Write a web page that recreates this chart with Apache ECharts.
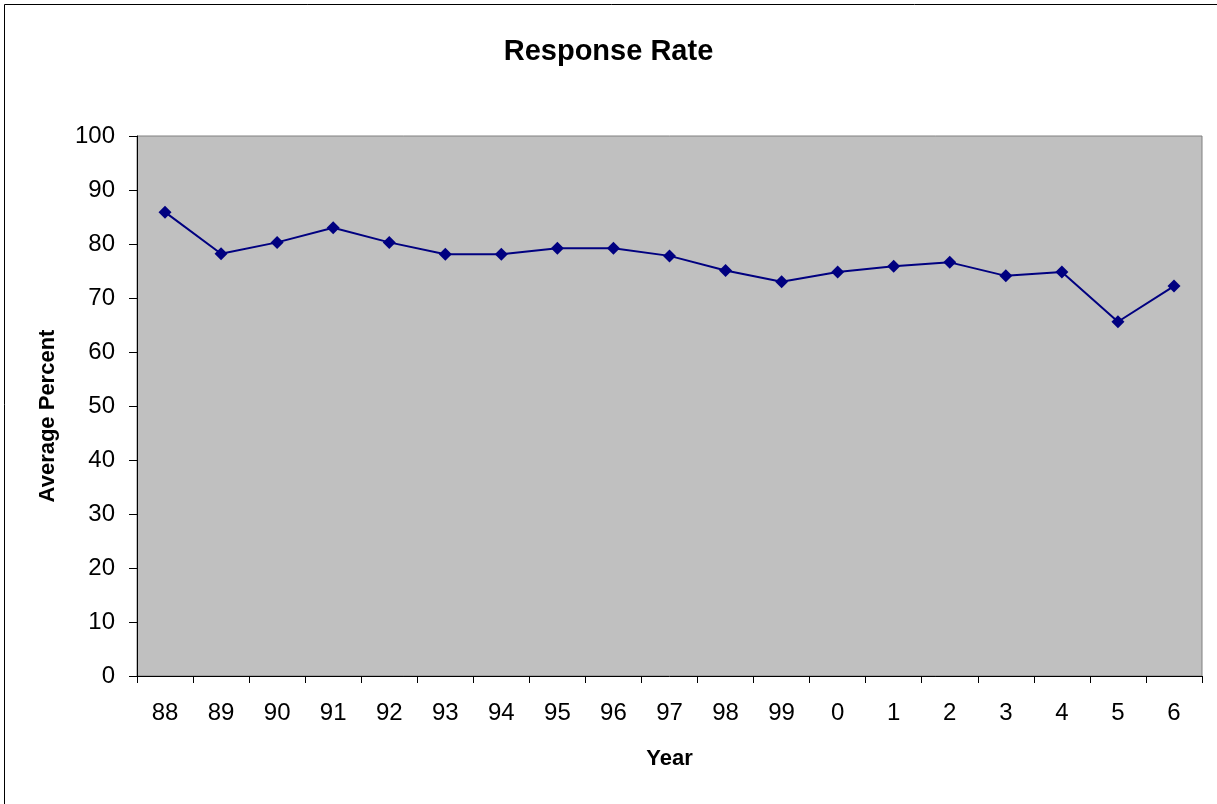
<!DOCTYPE html>
<html>
<head>
<meta charset="utf-8">
<title>Response Rate</title>
<script src="https://cdn.jsdelivr.net/npm/echarts@6/dist/echarts.min.js"></script>
<style>
	html, body { margin: 0; padding: 0; background: #fff; }
	#chart { width: 1217px; height: 804px; }
</style>
</head>
<body>
<div id="chart"></div>
<script>
// years as shown on the axis
var years = ['88', '89', '90', '91', '92', '93', '94', '95', '96', '97', '98', '99', '0', '1', '2', '3', '4', '5', '6'];
// average percent per year
var rates = [85.9, 78.2, 80.3, 83.0, 80.3, 78.1, 78.1, 79.2, 79.2, 77.8, 75.1, 73.0, 74.8, 75.9, 76.6, 74.1, 74.8, 65.6, 72.2];

var font = '"Liberation Sans", Arial, sans-serif';

var myChart = echarts.init(document.getElementById('chart'));
var option = {
	animation: false,
	backgroundColor: '#fff',
	title: {
		text: 'Response Rate',
		left: 'center',
		top: 32,
		textStyle: { fontFamily: font, fontSize: 29, fontWeight: 'bold', color: '#000' }
	},
	graphic: [
		{   // outer frame
			type: 'rect',
			shape: { x: 4.5, y: 4.5, width: 1230, height: 820 },
			style: { fill: null, stroke: '#000', lineWidth: 1 },
			silent: true
		}
	],
	grid: {
		left: 137,
		top: 136,
		right: 15,
		bottom: 128,
		show: true,
		backgroundColor: '#c0c0c0',
		borderColor: '#808080',
		borderWidth: 1
	},
	xAxis: {
		type: 'category',
		data: years,
		boundaryGap: true,
		name: 'Year',
		nameLocation: 'middle',
		nameGap: 72,
		nameTextStyle: { fontFamily: font, fontSize: 22, fontWeight: 'bold', color: '#000', verticalAlign: 'top' },
		axisLine: { lineStyle: { color: '#000', width: 1 } },
		axisTick: { show: true, length: 7, alignWithLabel: false, lineStyle: { color: '#000' } },
		axisLabel: { fontFamily: font, fontSize: 24, color: '#000', margin: 25 },
		splitLine: { show: false }
	},
	yAxis: {
		type: 'value',
		min: 0,
		max: 100,
		interval: 10,
		name: 'Average Percent',
		nameLocation: 'middle',
		nameGap: 78,
		nameRotate: 90,
		nameTextStyle: { fontFamily: font, fontSize: 22, fontWeight: 'bold', color: '#000', padding: [0, 20, 0, 0] },
		axisLine: { show: true, lineStyle: { color: '#000', width: 1 } },
		axisTick: { show: true, length: 8, lineStyle: { color: '#000' } },
		axisLabel: { fontFamily: font, fontSize: 24, color: '#000', margin: 22 },
		splitLine: { show: false }
	},
	series: [
		{
			name: 'Response Rate',
			type: 'line',
			data: rates,
			symbol: 'diamond',
			symbolSize: 13,
			lineStyle: { color: '#000080', width: 2 },
			itemStyle: { color: '#000080' }
		}
	]
};
myChart.setOption(option);
</script>
</body>
</html>
